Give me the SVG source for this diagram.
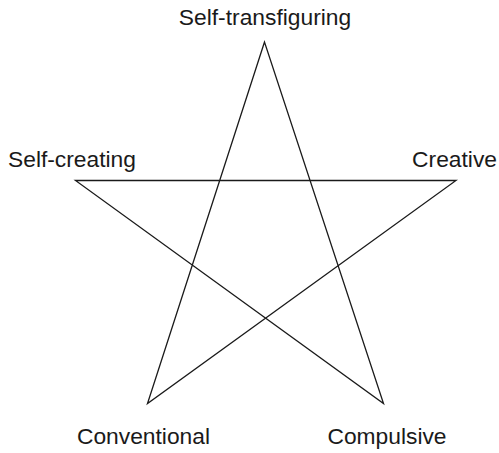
<svg xmlns="http://www.w3.org/2000/svg" width="499" height="453" viewBox="0 0 499 453">
<style>
.lbl{font-family:"Liberation Sans",Arial,sans-serif;font-size:22.8px;fill:#1a1a1a}
.edge{fill:none;stroke:#1a1a1a;stroke-width:1.3;stroke-linejoin:miter}
</style>
<rect width="499" height="453" fill="#fff"/>
<g id="connectors">
<path class="edge" d="M264.5,42 L147.5,403.5 L456,180.5 L75.5,180.5 L383.5,403.5 Z"/>
</g>
<g id="node-self-transfiguring"><text class="lbl" x="265" y="25" text-anchor="middle">Self-transfiguring</text></g>
<g id="node-self-creating"><text class="lbl" x="8" y="167">Self-creating</text></g>
<g id="node-creative"><text class="lbl" x="497" y="167" text-anchor="end">Creative</text></g>
<g id="node-conventional"><text class="lbl" x="143.5" y="444" text-anchor="middle">Conventional</text></g>
<g id="node-compulsive"><text class="lbl" x="387" y="444" text-anchor="middle">Compulsive</text></g>
</svg>
